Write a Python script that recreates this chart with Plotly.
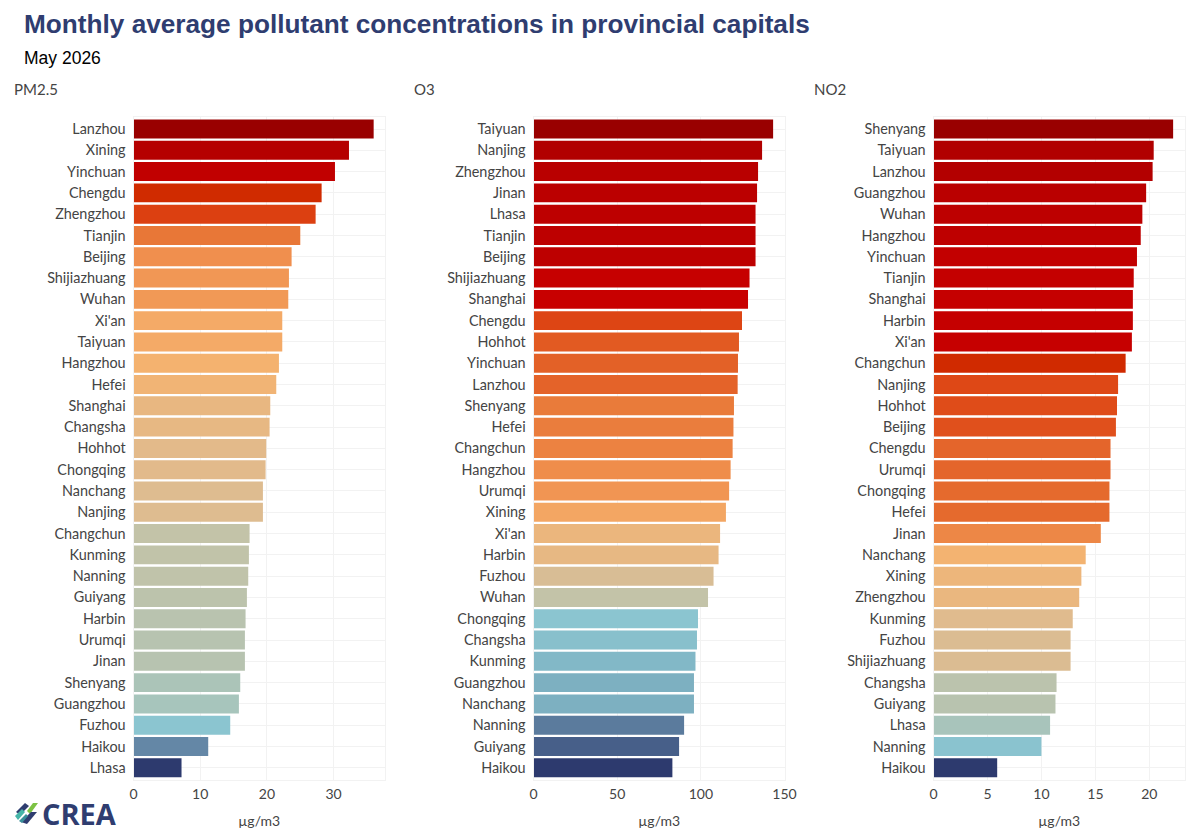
import plotly.graph_objects as go

pm_cities = ["Lanzhou","Xining","Yinchuan","Chengdu","Zhengzhou","Tianjin","Beijing","Shijiazhuang","Wuhan","Xi'an","Taiyuan","Hangzhou","Hefei","Shanghai","Changsha","Hohhot","Chongqing","Nanchang","Nanjing","Changchun","Kunming","Nanning","Guiyang","Harbin","Urumqi","Jinan","Shenyang","Guangzhou","Fuzhou","Haikou","Lhasa"]
pm_values = [36.0,32.3,30.2,28.2,27.3,25.0,23.7,23.3,23.2,22.3,22.3,21.8,21.4,20.5,20.4,19.9,19.8,19.4,19.4,17.4,17.3,17.2,17.0,16.8,16.7,16.7,16.0,15.8,14.5,11.2,7.2]
o3_cities = ["Taiyuan","Nanjing","Zhengzhou","Jinan","Lhasa","Tianjin","Beijing","Shijiazhuang","Shanghai","Chengdu","Hohhot","Yinchuan","Lanzhou","Shenyang","Hefei","Changchun","Hangzhou","Urumqi","Xining","Xi'an","Harbin","Fuzhou","Wuhan","Chongqing","Changsha","Kunming","Guangzhou","Nanchang","Nanning","Guiyang","Haikou"]
o3_values = [143.2,136.6,134.2,133.6,132.7,132.7,132.7,129.1,128.2,124.6,122.8,122.2,122.0,119.8,119.5,119.0,117.8,116.9,115.0,111.5,110.6,107.6,104.3,98.3,97.7,96.8,95.9,95.9,90.0,87.0,83.0]
no2_cities = ["Shenyang","Taiyuan","Lanzhou","Guangzhou","Wuhan","Hangzhou","Yinchuan","Tianjin","Shanghai","Harbin","Xi'an","Changchun","Nanjing","Hohhot","Beijing","Chengdu","Urumqi","Chongqing","Hefei","Jinan","Nanchang","Xining","Zhengzhou","Kunming","Fuzhou","Shijiazhuang","Changsha","Guiyang","Lhasa","Nanning","Haikou"]
no2_values = [22.2,20.4,20.3,19.7,19.35,19.2,18.85,18.55,18.47,18.47,18.38,17.8,17.1,17.0,16.9,16.4,16.4,16.3,16.3,15.5,14.1,13.7,13.5,12.9,12.7,12.7,11.4,11.3,10.8,10.0,5.9]

pollutants = ["PM2.5","O3","NO2"]
x_ticks = [[0,10,20,30],[0,50,100,150],[0,5,10,15,20]]
x_max = [37.7,150.3,23.3]
panel_left = [133.5,533.5,933.5]
panel_right = [385,785,1185]
title_left = [12,412,812]

NAVY = "#2f3d70"
GRID = "#f2f2f2"
LABEL = "#444444"
W, H = 1200, 840
scale = [[0,"#2d3a6e"],[.14,"#6488a6"],[.26,"#8dc8d2"],[.305,"#abc4b8"],[.354,"#c3c3a8"],[.43,"#e0bb8e"],
         [.51,"#f5b26e"],[.57,"#f0914f"],[.62,"#e87636"],[.70,"#dc3f10"],[.73,"#d02a00"],[.75,"#c80000"],
         [.86,"#b80000"],[1,"#990000"]]

def px(points):
    return "M " + " L ".join(f"{x/W:.5f},{1-y/H:.5f}" for x,y in points) + " Z"

logo = [
    ("#2f3d70", [(16,812),(25,803),(29,806),(20,815)]),
    ("#7cc243", [(27,811),(33,803),(38,803),(30,814)]),
    ("#46b5a8", [(15,816),(22,809),(25,812),(18,820)]),
    ("#2f3d70", [(21,822),(31,812),(37,812),(27,824)]),
    ("#3a8f9a", [(19,821),(26,814),(28,816),(22,823)]),
]
shapes = [dict(type="path", path=px(p), xref="paper", yref="paper", fillcolor=c, line=dict(width=0)) for c,p in logo]

fig = go.Figure()
series = [(pm_cities,pm_values),(o3_cities,o3_values),(no2_cities,no2_values)]
layout_axes = {}
annotations = [
    dict(text="<b>Monthly average pollutant concentrations in provincial capitals</b>", x=22/W, y=1-24/H, xref="paper", yref="paper",
         xanchor="left", yanchor="middle", showarrow=False, font=dict(family="Liberation Sans", size=26.2, color=NAVY)),
    dict(text="May 2026", x=22/W, y=1-58/H, xref="paper", yref="paper", xanchor="left", yanchor="middle",
         showarrow=False, font=dict(family="Liberation Sans", size=17.5, color="#000000")),
    dict(text="<b>CREA</b>", x=40/W, y=1-813/H, xref="paper", yref="paper", xanchor="left", yanchor="middle",
         showarrow=False, font=dict(family="Open Sans", size=29, color=NAVY)),
]
for i,(cities,vals) in enumerate(series):
    s = "" if i==0 else str(i+1)
    fig.add_trace(go.Bar(x=vals, y=cities, orientation="h", xaxis="x"+s, yaxis="y"+s, width=0.89,
                         marker=dict(color=vals, colorscale=scale, line=dict(width=0)), showlegend=False))
    layout_axes["xaxis"+s] = dict(domain=[panel_left[i]/W, panel_right[i]/W], range=[0,x_max[i]], anchor="y"+s,
        tickvals=x_ticks[i], gridcolor=GRID, gridwidth=1, zeroline=False, showline=True, linecolor=GRID, mirror=True,
        ticks="outside", ticklen=2, tickcolor="rgba(0,0,0,0)", tickfont=dict(family="Lato", size=14, color=LABEL),
        automargin=False, title=dict(text="µg/m3", font=dict(family="Lato", size=14, color=LABEL), standoff=14))
    layout_axes["yaxis"+s] = dict(domain=[1-779.5/H, 1-117.3/H], range=[30.55,-0.55], anchor="x"+s, type="category",
        categoryorder="array", categoryarray=cities, gridcolor=GRID, gridwidth=1, zeroline=False, showline=True,
        linecolor=GRID, mirror=True, ticks="outside", ticklen=4, tickcolor="rgba(0,0,0,0)", automargin=False,
        tickfont=dict(family="Lato", size=14.4, color=LABEL), dtick=1)
    annotations.append(dict(text=pollutants[i], x=title_left[i]/W, y=1-89/H, xref="paper", yref="paper", xanchor="left",
        yanchor="middle", showarrow=False, font=dict(family="Lato", size=15, color=LABEL)))

fig.update_layout(width=W, height=H, margin=dict(l=0,r=0,t=0,b=0,autoexpand=False), paper_bgcolor="white", plot_bgcolor="white",
                  annotations=annotations, shapes=shapes, bargap=0.1, **layout_axes)
fig.write_html("out.html", config=dict(displayModeBar=False), post_script="document.body.style.margin='0';")
